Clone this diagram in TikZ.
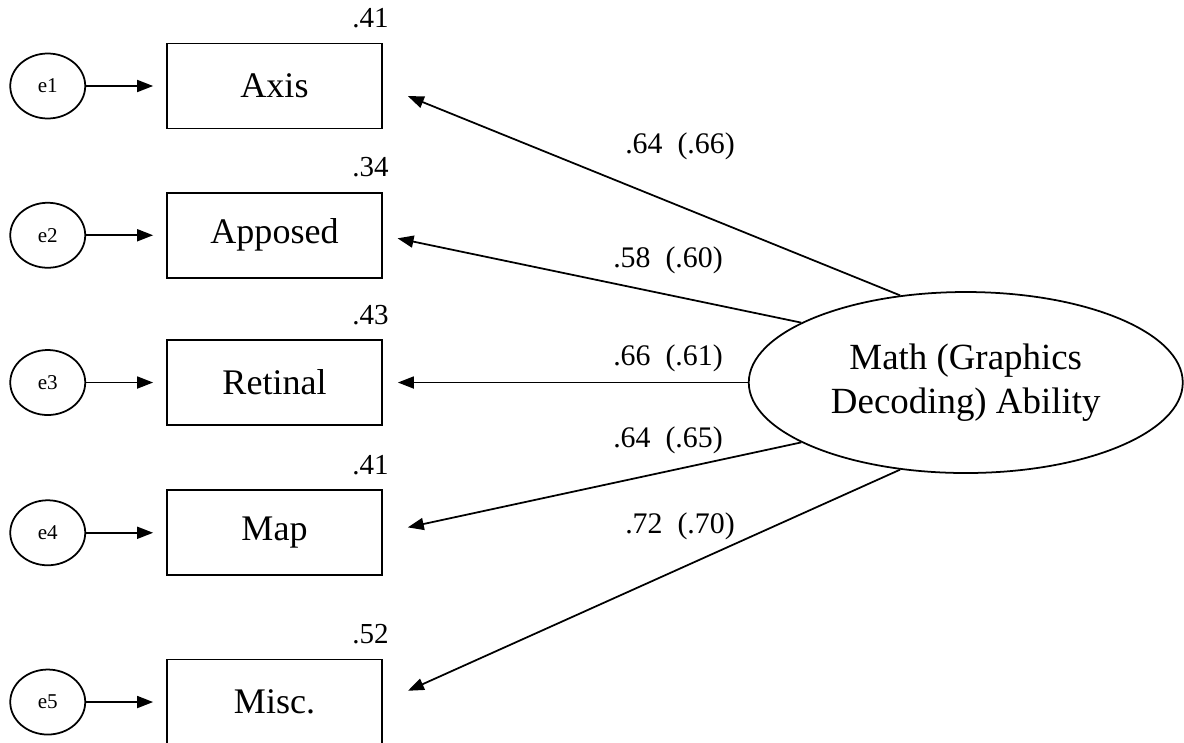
\documentclass[tikz,border=0pt]{standalone}
\usepackage{fontspec}
\setmainfont{Liberation Serif}
\usetikzlibrary{positioning,shapes.geometric,arrows.meta}

\tikzset{
  obs/.style={draw, line width=1pt, minimum width=4.3cm, minimum height=1.7cm, inner sep=0pt, font=\fontsize{20.5}{24}\selectfont},
  err/.style={draw, ellipse, line width=1pt, minimum width=1.5cm, minimum height=1.3cm, inner sep=0pt, font=\fontsize{12}{14}\selectfont},
  factor/.style={draw, ellipse, line width=1pt, minimum width=8.68cm, minimum height=3.62cm, inner sep=0pt, align=center, font=\fontsize{21}{25}\selectfont},
  coef/.style={anchor=base, inner sep=0pt, font=\fontsize{17}{20}\selectfont},
  rsq/.style={anchor=base east, inner sep=0pt, font=\fontsize{16.5}{20}\selectfont},
  arr/.style={-{Triangle[length=0.32cm,width=0.24cm]}, line width=1pt}
}

\begin{document}
\begin{tikzpicture}
    \useasboundingbox (0,0) rectangle (23.68,-14.84);
    % observed variables
    \node[obs] (ax) at (5.49,-1.72) {Axis};
    \node[obs, below = 1.25cm of ax] (ap) {Apposed};
    \node[obs, below = 1.21cm of ap] (rt) {Retinal};
    \node[obs, below = 1.27cm of rt] (mp) {Map};
    \node[obs, below = 1.65cm of mp] (ms) {Misc.};
    % error terms
    \node[err, left = 1.6cm of ax] (e1) {e1};
    \node[err, left = 1.6cm of ap] (e2) {e2};
    \node[err, left = 1.6cm of rt] (e3) {e3};
    \node[err, left = 1.6cm of mp] (e4) {e4};
    \node[err, left = 1.6cm of ms] (e5) {e5};
    % latent factor
    \node[factor, right = 7.3cm of rt] (fac) {Math (Graphics\\Decoding) Ability};
    % squared multiple correlations
    \node[rsq] (r1) at ([xshift=0.12cm, yshift=0.3cm]ax.north east) {.41};
    \node[rsq] (r2) at ([xshift=0.12cm, yshift=0.3cm]ap.north east) {.34};
    \node[rsq] (r3) at ([xshift=0.12cm, yshift=0.3cm]rt.north east) {.43};
    \node[rsq] (r4) at ([xshift=0.12cm, yshift=0.3cm]mp.north east) {.41};
    \node[rsq] (r5) at ([xshift=0.12cm, yshift=0.3cm]ms.north east) {.52};
    % loadings
    \node[coef] (l1) at (13.6,-3.06) {.64 \ (.66)};
    \node[coef] (l2) at (13.36,-5.34) {.58 \ (.60)};
    \node[coef] (l3) at (13.36,-7.3) {.66 \ (.61)};
    \node[coef] (l4) at (13.36,-8.94) {.64 \ (.65)};
    \node[coef] (l5) at (13.6,-10.66) {.72 \ (.70)};

    \draw[arr, shorten >=0.26cm] (e1) -- (ax);
    \draw[arr, shorten >=0.26cm] (e2) -- (ap);
    \draw[arr, shorten >=0.26cm] (e3) -- (rt);
    \draw[arr, shorten >=0.26cm] (e4) -- (mp);
    \draw[arr, shorten >=0.26cm] (e5) -- (ms);

    \draw[arr, shorten >=0.54cm] (fac.127) -- (ax.east);
    \draw[arr, shorten >=0.3cm] (fac.160) -- (ap.east);
    \draw[arr, shorten >=0.3cm] (fac) -- (rt);
    \draw[arr, shorten >=0.51cm] (fac.200) -- (mp.east);
    \draw[arr, shorten >=0.55cm] (fac.233) -- (ms.east);
\end{tikzpicture}
\end{document}
